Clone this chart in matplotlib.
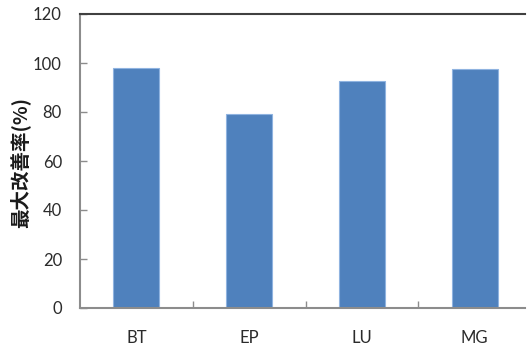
import matplotlib
matplotlib.use("Agg")
import matplotlib.pyplot as plt
from matplotlib.ticker import FixedLocator

categories = ["BT", "EP", "LU", "MG"]
improvement = [98.1, 79.2, 92.8, 97.5]
y_ticks = [0, 20, 40, 60, 80, 100, 120]

plt.rcParams["font.family"] = ["Lato", "DejaVu Sans"]

W, H = 527, 345
fig = plt.figure(figsize=(W / 100, H / 100), dpi=100)
fig.patch.set_facecolor("white")

# plot area: left spine at x=80, baseline at y=308, top at y=14; runs past the right edge
left, bottom, top = 80, 308, 14
width = 451
ax = fig.add_axes([left / W, (H - bottom) / H, width / W, (bottom - top) / H])

x = list(range(len(categories)))
ax.bar(x, improvement, width=0.41, color="#4f81bd", edgecolor="#8fb3e0", linewidth=0.8, zorder=2)

ax.set_xlim(-0.5, len(categories) - 0.5)
ax.set_ylim(0, 120)
ax.set_yticks(y_ticks)
ax.set_yticklabels([str(v) for v in y_ticks])
ax.set_xticks(x)
ax.set_xticklabels(categories)
ax.xaxis.set_minor_locator(FixedLocator([0.5, 1.5, 2.5]))

ax.tick_params(axis="y", direction="in", length=5, width=1, color="#8c8c8c",
               labelsize=12, labelcolor="#2b2b2b", pad=13, right=False)
ax.tick_params(axis="x", which="major", length=0, labelsize=12,
               labelcolor="#2b2b2b", pad=16)
ax.tick_params(axis="x", which="minor", direction="in", length=5, width=1, color="#8c8c8c")

for side in ("left", "bottom"):
    ax.spines[side].set_color("#8c8c8c")
    ax.spines[side].set_linewidth(1.5)
ax.spines["top"].set_color("#404040")
ax.spines["top"].set_linewidth(1.5)
ax.spines["right"].set_visible(False)
# horizontal frame lines stop at the figure's right edge
ax.spines["top"].set_bounds(-0.5, 3.45)
ax.spines["bottom"].set_bounds(-0.5, 3.45)
ax.patch.set_visible(False)

fig.text(20 / W, (H - 163) / H, "最大改善率(%)", rotation=90, ha="center", va="center",
         fontsize=14, fontweight="bold", color="#1a1a1a",
         family=["Noto Sans CJK SC", "DejaVu Sans"])

fig.savefig("out.png", dpi=100, facecolor="white")
